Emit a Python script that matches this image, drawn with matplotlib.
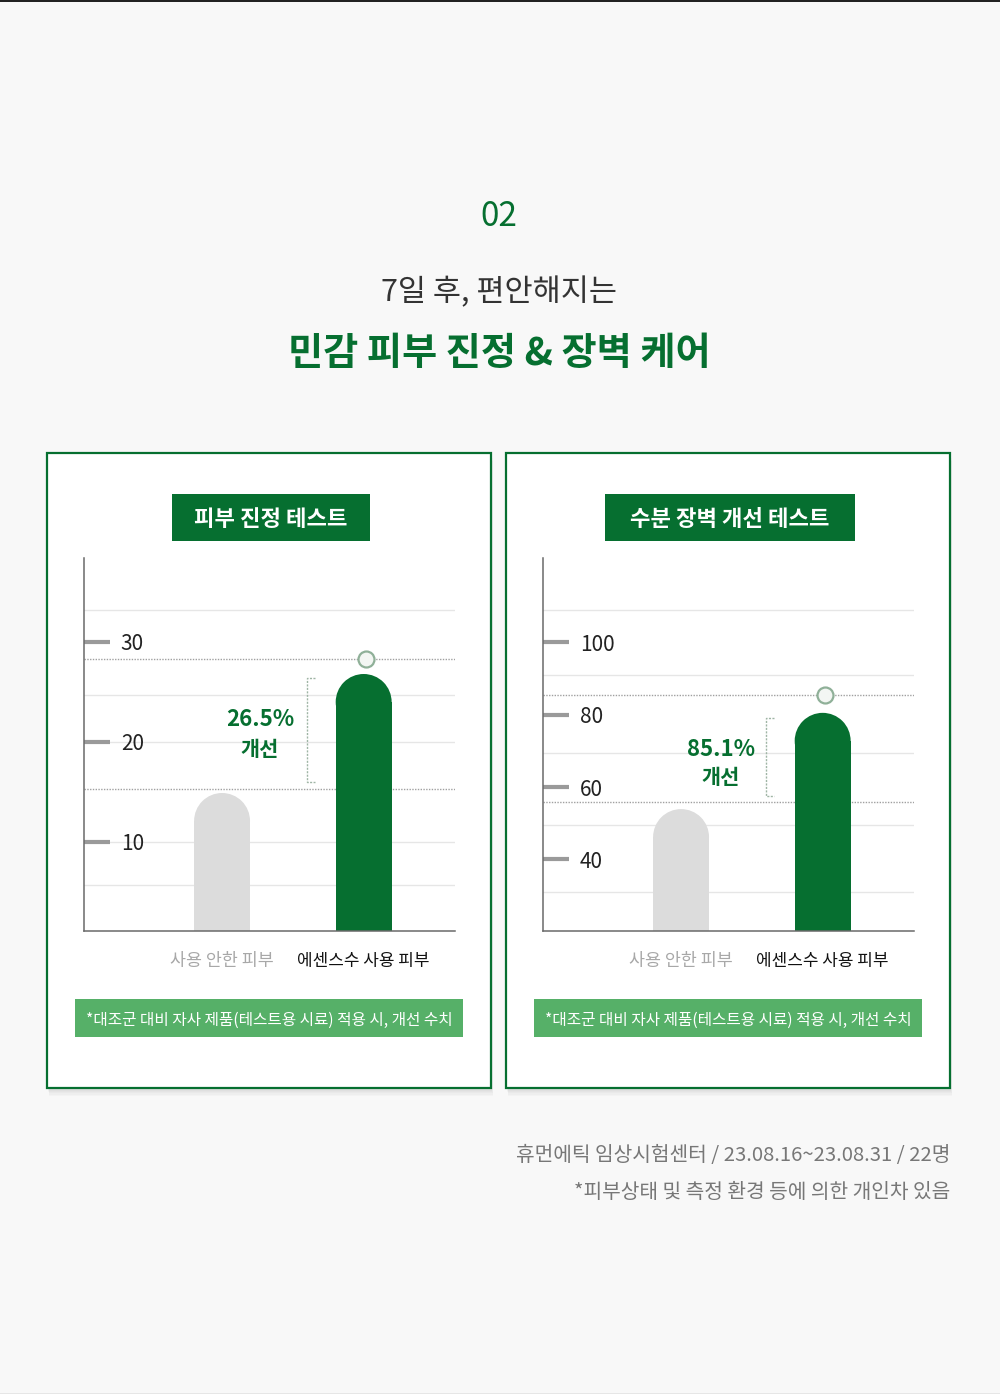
import matplotlib
matplotlib.use('Agg')
import matplotlib.pyplot as plt
from matplotlib.patches import Rectangle, Ellipse
from matplotlib.transforms import blended_transform_factory

plt.rcParams['font.family'] = ['Noto Sans CJK KR', 'DejaVu Sans']

# colours
DARK_GREEN = '#066f30'
LIGHT_GREEN = '#56b068'
BAR_GRAY = '#dcdcdc'
BG = '#f8f8f8'

# data
categories = ['사용 안한 피부', '에센스수 사용 피부']

skin_title = '피부 진정 테스트'
skin_values = [14.9, 26.8]
skin_ticks = [10, 20, 30]
skin_grid = [5.7, 10, 20, 24.7, 33.2]
skin_guides = [15.3, 28.3]
skin_bracket = [16.0, 26.4]
skin_ylim = (1.1, 38.4)
skin_gain = '26.5%'

barrier_title = '수분 장벽 개선 테스트'
barrier_values = [53.9, 80.5]
barrier_ticks = [40, 60, 80, 100]
barrier_grid = [31.0, 49.5, 69.4, 91.0, 108.9]
barrier_guides = [55.8, 85.4]
barrier_bracket = [57.5, 79.1]
barrier_ylim = (20.2, 123.3)
barrier_gain = '85.1%'

note = '*대조군 대비 자사 제품(테스트용 시료) 적용 시, 개선 수치'
footer = ['휴먼에틱 임상시험센터 / 23.08.16~23.08.31 / 22명',
          '*피부상태 및 측정 환경 등에 의한 개인차 있음']

W, H = 1000, 1394
fig = plt.figure(figsize=(W / 100, H / 100), dpi=100)
fig.patch.set_facecolor(BG)

# full-figure layer in pixel coordinates for boxes and text
bg = fig.add_axes([0, 0, 1, 1])
bg.set_xlim(0, W)
bg.set_ylim(H, 0)
bg.axis('off')
bg.add_patch(Rectangle((0, 0), W, 2, color='#222222', lw=0))
bg.add_patch(Rectangle((0, H - 1.5), W, 1.5, color='#e6e6e6', lw=0))

# header
bg.text(499, 217, '02', ha='center', va='center', fontsize=24, color=DARK_GREEN, fontweight='medium')
bg.text(499, 293, '7일 후, 편안해지는', ha='center', va='center', fontsize=22, color='#333333')
bg.text(499, 353, '민감 피부 진정 & 장벽 케어', ha='center', va='center', fontsize=27.5,
        color=DARK_GREEN, fontweight='bold')


def frac(x0, y0, x1, y1):
    return [x0 / W, 1 - y1 / H, (x1 - x0) / W, (y1 - y0) / H]


def panel(x0, title, title_w, values, ticks, grid, guides, bracket, ylim, gain, gain_xy):
    # card with soft shadow
    for i in range(1, 7):
        bg.add_patch(Rectangle((x0 + i * 0.4, 453 + i * 1.3), 444, 635, facecolor='black',
                               alpha=0.02, lw=0, zorder=1))
    bg.add_patch(Rectangle((x0, 453), 444, 635, facecolor='white', edgecolor=DARK_GREEN,
                           lw=1.6, zorder=2))
    cx = x0 + 222
    bg.add_patch(Rectangle((cx - title_w / 2 + 2, 494), title_w, 47, color=DARK_GREEN, lw=0, zorder=3))
    bg.text(cx + 2, 520, title, ha='center', va='center', fontsize=16, color='white',
            fontweight='bold', zorder=4)
    bg.add_patch(Rectangle((x0 + 28, 999), 388, 38, color=LIGHT_GREEN, lw=0, zorder=3))
    bg.text(x0 + 222, 1020, note, ha='center', va='center', fontsize=11.3, color='white',
            fontweight='medium', zorder=4)

    # chart
    ax = fig.add_axes(frac(x0 + 37, 558, x0 + 408, 931))
    ax.set_facecolor('none')
    xlim = (-0.975, 1.645)
    ax.set_xlim(*xlim)
    ax.set_ylim(*ylim)
    for s in ['top', 'right']:
        ax.spines[s].set_visible(False)
    for s in ['left', 'bottom']:
        ax.spines[s].set_color('#6a6a6a')
        ax.spines[s].set_linewidth(1.1)

    for g in grid:
        ax.axhline(g, color='#e6e6e6', lw=1, zorder=0)
    for g in guides:
        ax.axhline(g, color='#a0a0a0', lw=1, ls=(0, (1, 1)), zorder=1)

    # rounded-top bars
    sx, sy = ax.transData.transform((1, 1)) - ax.transData.transform((0, 0))
    bw = 0.395
    ry = (bw / 2) * sx / sy
    colors = [BAR_GRAY, DARK_GREEN]
    for i, v in enumerate(values):
        ax.bar(i, v - ry - ylim[0], bottom=ylim[0], width=bw, color=colors[i], lw=0, zorder=2)
        ax.add_patch(Ellipse((i, v - ry), bw, 2 * ry, color=colors[i], lw=0, zorder=2))

    # target marker above product bar
    ax.plot(1.015, guides[1], 'o', ms=11.5, mfc='#f3f6f3', mec='#8fb098', mew=1.6, zorder=4,
            clip_on=False)

    # bracket and improvement label
    bx = 0.603
    ax.plot([bx + 0.05, bx, bx, bx + 0.05], [bracket[1], bracket[1], bracket[0], bracket[0]],
            color='#9fb5a5', lw=1, ls=(0, (1.5, 1)), zorder=3)
    gx, gy = gain_xy
    ax.text(gx, gy + 2, gain, transform=bg.transData, ha='center', va='center', fontsize=16,
            color=DARK_GREEN, fontweight='bold', zorder=5)
    ax.text(gx, gy + 31, '개선', transform=bg.transData, ha='center', va='center', fontsize=15,
            color=DARK_GREEN, fontweight='bold', zorder=5)

    # y ticks drawn inside, labels to the right
    ax.set_yticks(ticks)
    ax.set_yticklabels([])
    ax.tick_params(axis='y', direction='in', length=18.7, width=3, color='#9a9a9a')
    tr = blended_transform_factory(ax.transAxes, ax.transData)
    for t in ticks:
        ax.text(0.099, t, str(t), transform=tr, ha='left', va='center_baseline', fontsize=15,
                color='#222222')

    ax.set_xticks([0, 1])
    ax.set_xticklabels(categories)
    ax.tick_params(axis='x', length=0, pad=15)
    labs = ax.get_xticklabels()
    labs[0].set_color('#a8a8a8')
    labs[0].set_fontsize(12.5)
    labs[1].set_color('#111111')
    labs[1].set_fontsize(12.2)
    labs[1].set_fontweight('medium')
    return ax


panel(47, skin_title, 198, skin_values, skin_ticks, skin_grid, skin_guides, skin_bracket,
      skin_ylim, skin_gain, (260, 718))
panel(506, barrier_title, 250, barrier_values, barrier_ticks, barrier_grid, barrier_guides,
      barrier_bracket, barrier_ylim, barrier_gain, (721, 747))

# footer
bg.text(950, 1156, footer[0], ha='right', va='center', fontsize=14.6, color='#777777')
bg.text(950, 1192, footer[1], ha='right', va='center', fontsize=14.6, color='#777777')

fig.savefig('out.png', dpi=100, facecolor=BG)
